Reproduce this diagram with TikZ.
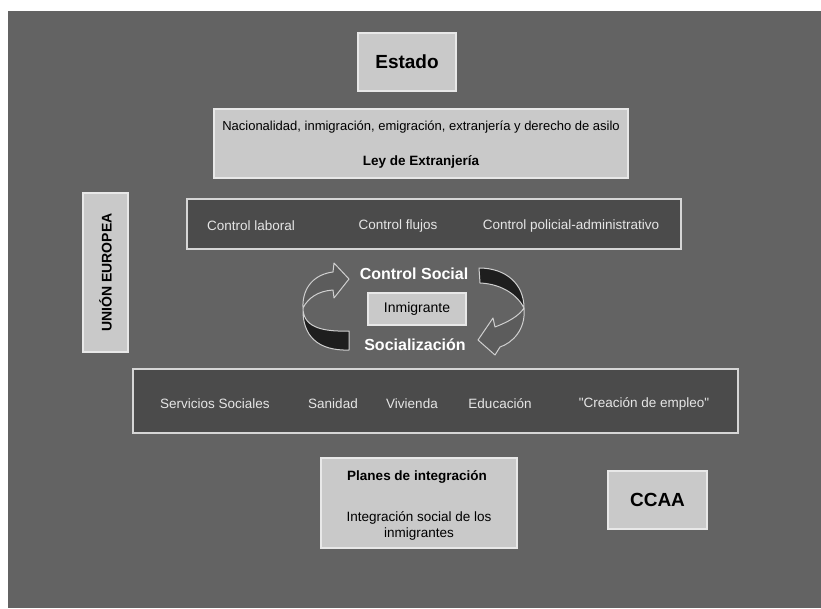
\documentclass[tikz,border=0pt]{standalone}
\usepackage{fontspec}
\setmainfont{Liberation Sans}
\newfontfamily\plainsans{Liberation Sans}
\definecolor{bg}{HTML}{636363}
\definecolor{lightfill}{HTML}{C9C9C9}
\definecolor{lightedge}{HTML}{E8E8E8}
\definecolor{darkfill}{HTML}{4B4B4B}
\definecolor{darkedge}{HTML}{D6D6D6}
\definecolor{darktext}{HTML}{E6E6E6}
\definecolor{arrowgray}{HTML}{5C5C5C}
\definecolor{arrowdark}{HTML}{1E1E1E}
\definecolor{arrowedge}{HTML}{CFCFCF}
\begin{document}
\begin{tikzpicture}[x=1pt,y=-1pt,
  lightbox/.style={draw=lightedge,fill=lightfill,line width=1.2pt,inner sep=0pt},
  darkbox/.style={draw=darkedge,fill=darkfill,line width=1.2pt,inner sep=0pt},
  bigbold/.style={font=\fontsize{19}{22}\selectfont\bfseries,text=black},
  small/.style={font=\fontsize{13.5}{16}\selectfont,text=black,inner sep=0pt},
  smallbold/.style={font=\fontsize{13.5}{16}\selectfont\bfseries,text=black,inner sep=0pt},
  darklabel/.style={font=\fontsize{13.5}{16}\selectfont,text=darktext,inner sep=0pt},
  cyclelabel/.style={font=\fontsize{16}{19}\selectfont\bfseries,text=white,inner sep=0pt},
  ribbon/.style={draw=arrowedge,line width=1pt,line join=round}]
\useasboundingbox (0,0) rectangle (821,608);
\fill[white] (0,0) rectangle (821,608);
\fill[bg] (8,11) rectangle (821,608);

% Estado
\node[lightbox,bigbold,minimum width=98pt,minimum height=58pt] (estado) at (407,62) {Estado};

% Ley de Extranjeria
\node[lightbox,minimum width=414pt,minimum height=69pt] (ley) at (421,143.5) {};
\node[small,font=\fontsize{13}{16}\selectfont] (nac) at (421,127) {Nacionalidad, inmigración, emigración, extranjería y derecho de asilo};
\node[smallbold] (leyt) at (421,162) {Ley de Extranjería};

% Control box
\node[darkbox,minimum width=494pt,minimum height=50pt] (control) at (434,224) {};
\node[darklabel] (claboral) at (251,226) {Control laboral};
\node[darklabel] (cflujos) at (398,226) {Control flujos};
\node[darklabel] (cpolicial) at (571,226) {Control policial-administrativo};

% Union Europea
\node[lightbox,minimum width=45pt,minimum height=159pt] (ue) at (105.5,272.5) {};
\node[font=\fontsize{14}{16}\selectfont\bfseries,rotate=90,inner sep=0pt] (uet) at (105.5,272.5) {UNIÓN EUROPEA};

% Cycle
\node[cyclelabel] (csocial) at (414,274) {Control Social};
\node[lightbox,font=\fontsize{14}{16}\selectfont,minimum width=98pt,minimum height=32pt] (inmig) at (417,309) {Inmigrante};
\node[cyclelabel] (social) at (415,345) {Socialización};

% left ribbon arrow
\fill[arrowdark,ribbon] (303,308) .. controls (303,326) and (320,332) .. (349,331)
  -- (349,350) .. controls (318,351) and (302,336) .. (303,308) -- cycle;
\fill[arrowgray,ribbon] (303,308) .. controls (302,286) and (316,274) .. (333,272)
  -- (334,263) -- (349,279) -- (334,298) -- (333,290)
  .. controls (318,291) and (308,298) .. (303,308) -- cycle;

% right ribbon arrow
\fill[arrowdark,ribbon] (479,268) .. controls (506,268) and (524,284) .. (524,308)
  .. controls (518,296) and (503,284) .. (480,283) -- cycle;
\fill[arrowgray,ribbon] (524,308) .. controls (526,330) and (512,343) .. (500,347)
  -- (495,355) -- (478,340) -- (493,318) -- (495,327)
  .. controls (508,322) and (519,316) .. (524,308) -- cycle;

% Services
\node[darkbox,minimum width=605pt,minimum height=64pt] (serv) at (435.5,401) {};
\node[darklabel] (ss) at (215,404) {Servicios Sociales};
\node[darklabel] (san) at (333,404) {Sanidad};
\node[darklabel] (viv) at (412,404) {Vivienda};
\node[darklabel] (edu) at (500,404) {Educación};
\node[darklabel,font=\fontsize{13.5}{16}\plainsans] (emp) at (644,404) {"Creación de empleo"};

% Planes
\node[lightbox,minimum width=196pt,minimum height=90pt] (planes) at (419,503) {};
\node[smallbold] (plt) at (417,477) {Planes de integración};
\node[small,align=center,font=\fontsize{13.5}{16}\selectfont] (intg) at (419,526) {Integración social de los\\inmigrantes};

% CCAA
\node[lightbox,bigbold,minimum width=99pt,minimum height=58pt] (ccaa) at (657.5,500) {CCAA};
\end{tikzpicture}
\end{document}
